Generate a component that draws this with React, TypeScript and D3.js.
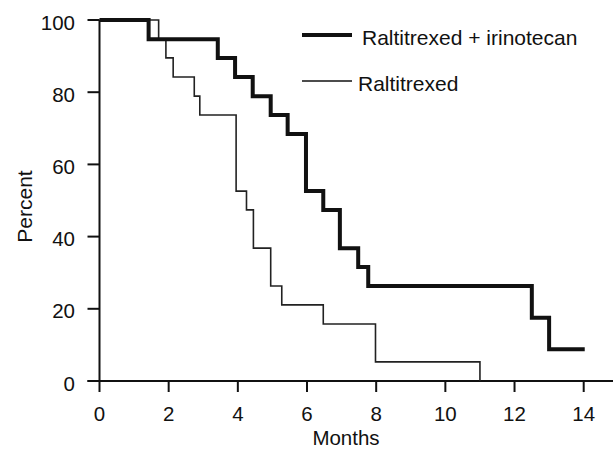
import React, { useRef, useEffect } from 'react';
import * as d3 from 'd3';

// Kaplan-Meier steps: [month, percent]
const comboSteps: [number, number][] = [
  [0, 100], [1.42, 94.7], [3.42, 89.5], [3.92, 84.2], [4.43, 78.9], [4.95, 73.7],
  [5.44, 68.4], [5.97, 52.6], [6.47, 47.4], [6.95, 36.8], [7.48, 31.6], [7.77, 26.3],
  [12.5, 17.5], [13.0, 8.8], [14.03, 8.8],
];
const monoSteps: [number, number][] = [
  [0, 100], [1.71, 94.7], [1.92, 89.5], [2.13, 84.2], [2.74, 78.9], [2.9, 73.7],
  [3.95, 52.6], [4.25, 47.4], [4.45, 36.8], [4.95, 26.3], [5.27, 21.1], [6.47, 15.8],
  [7.98, 5.3], [11.0, 5.3], [11.0, 0],
];
const xTicks = [0, 2, 4, 6, 8, 10, 12, 14];
const yTicks = [0, 20, 40, 60, 80, 100];
const legendLabels = ['Raltitrexed + irinotecan', 'Raltitrexed'];

const font = '"Liberation Sans", Arial, sans-serif';

function App() {
  const svgRef = useRef<SVGSVGElement>(null);

  useEffect(() => {
    const width = 613;
    const svg = d3.select(svgRef.current);
    svg.selectAll('*').remove();

    const x = d3.scaleLinear().domain([0, 14]).range([99.5, 583.7]);
    const y = d3.scaleLinear().domain([0, 100]).range([381, 20]);

    // axes
    const xAxis = svg.append('g').attr('transform', `translate(0, ${y(0)})`);
    xAxis.append('line')
      .attr('x1', x(0) - 12).attr('x2', width)
      .attr('stroke', '#111').attr('stroke-width', 2);
    xAxis.selectAll('.xt').data(xTicks).enter().append('line')
      .attr('x1', d => x(d)).attr('x2', d => x(d))
      .attr('y1', 0).attr('y2', 11)
      .attr('stroke', '#111').attr('stroke-width', 2);
    xAxis.selectAll('.xl').data(xTicks).enter().append('text')
      .attr('x', d => x(d)).attr('y', 39.5)
      .attr('text-anchor', 'middle')
      .style('font-family', font).style('font-size', '20.5px').attr('fill', '#111')
      .text(d => d);

    const yAxis = svg.append('g').attr('transform', `translate(${x(0)}, 0)`);
    yAxis.append('line')
      .attr('y1', y(0)).attr('y2', y(100))
      .attr('stroke', '#111').attr('stroke-width', 2);
    yAxis.selectAll('.yt').data(yTicks).enter().append('line')
      .attr('x1', -12).attr('x2', 0)
      .attr('y1', d => y(d)).attr('y2', d => y(d))
      .attr('stroke', '#111').attr('stroke-width', 2);
    yAxis.selectAll('.yl').data(yTicks).enter().append('text')
      .attr('x', -24.5).attr('y', d => y(d) + 9.5)
      .attr('text-anchor', 'end')
      .style('font-family', font).style('font-size', '20.5px').attr('fill', '#111')
      .text(d => d);

    svg.append('text')
      .attr('x', 346).attr('y', 445)
      .attr('text-anchor', 'middle')
      .style('font-family', font).style('font-size', '20.5px').attr('fill', '#111')
      .text('Months');
    svg.append('text')
      .attr('transform', `translate(32, 206.5) rotate(-90)`)
      .attr('text-anchor', 'middle')
      .style('font-family', font).style('font-size', '21px').attr('fill', '#111')
      .text('Percent');

    // survival curves
    const line = d3.line<[number, number]>()
      .x(d => x(d[0]))
      .y(d => y(d[1]))
      .curve(d3.curveStepAfter);

    svg.append('path')
      .datum(monoSteps)
      .attr('d', line)
      .attr('fill', 'none').attr('stroke', '#222').attr('stroke-width', 1.6);
    svg.append('path')
      .datum(comboSteps)
      .attr('d', line)
      .attr('fill', 'none').attr('stroke', '#111').attr('stroke-width', 4);

    // legend
    const legend = svg.append('g');
    const rows = [
      { y: 35, w: 4, tx: 362, label: legendLabels[0] },
      { y: 81, w: 1.6, tx: 358, label: legendLabels[1] },
    ];
    rows.forEach(r => {
      legend.append('line')
        .attr('x1', 302).attr('x2', 352).attr('y1', r.y).attr('y2', r.y)
        .attr('stroke', '#111').attr('stroke-width', r.w);
      legend.append('text')
        .attr('x', r.tx).attr('y', r.y + 10)
        .style('font-family', font).style('font-size', '21px').attr('fill', '#111')
        .text(r.label);
    });
  }, []);

  return (
    <svg ref={svgRef} width={613} height={449}
      style={{ position: 'absolute', left: 0, top: 0, background: '#fff' }} />
  );
}

export default App;
